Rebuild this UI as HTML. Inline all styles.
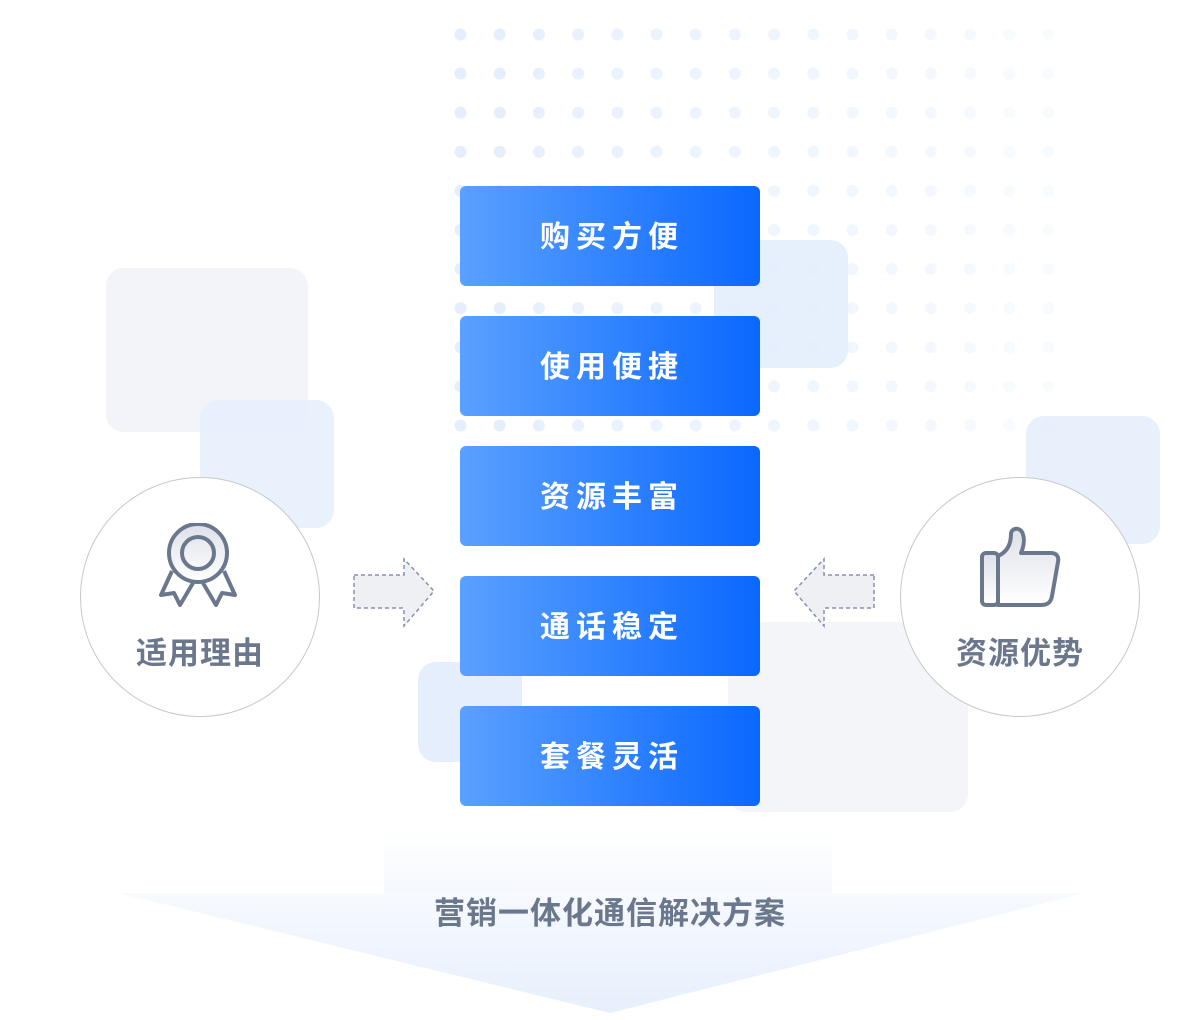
<!DOCTYPE html>
<html><head><meta charset="utf-8"><style>
body{margin:0;width:1196px;height:1020px;background:#fff;position:relative;overflow:hidden;font-family:"Liberation Sans","Noto Sans CJK SC",sans-serif}
.a{position:absolute}
.sq{position:absolute;border-radius:18px}
.btn{position:absolute;left:460px;width:300px;height:100px;border-radius:6px;background:linear-gradient(90deg,#5aa0ff,#0a68ff);color:#fff;font-size:30px;font-weight:bold;letter-spacing:6px;text-align:center;line-height:104px;text-indent:4px}
.circ{position:absolute;width:238px;height:238px;border-radius:50%;border:1px solid #c8c8c8;background:#fff}
.lbl{position:absolute;left:0;width:100%;text-align:center;top:150px;font-size:31px;font-weight:bold;color:#6b778c;letter-spacing:1px}
</style></head><body>
<div class="sq" style="left:106px;top:268px;width:202px;height:164px;background:#f2f4f9"></div>
<div class="sq" style="left:200px;top:400px;width:134px;height:128px;background:#e6effc;opacity:.9"></div>
<div class="sq" style="left:714px;top:240px;width:134px;height:128px;background:#e6effc"></div>
<div class="sq" style="left:1026px;top:416px;width:134px;height:128px;background:#e8f0fc"></div>
<div class="sq" style="left:418px;top:662px;width:104px;height:100px;background:#e4eefc"></div>
<div class="sq" style="left:728px;top:622px;width:240px;height:190px;background:#f3f5f9"></div>
<svg class="a" style="left:0;top:0" width="1196" height="1020">
<defs>
<linearGradient id="fx" x1="0" x2="1" y1="0" y2="0"><stop offset="0" stop-color="#fff" stop-opacity="1"/><stop offset="1" stop-color="#fff" stop-opacity=".2"/></linearGradient>
<mask id="m"><rect x="440" y="0" width="640" height="450" fill="url(#fx)"/></mask>
<pattern id="dots" x="441" y="15" width="39.2" height="39.1" patternUnits="userSpaceOnUse"><circle cx="19.5" cy="19.5" r="6" fill="#e3eefc"/></pattern>
<linearGradient id="ar" x1="0" x2="0" y1="0" y2="1"><stop offset="0" stop-color="#f7faff"/><stop offset="1" stop-color="#e6effc"/></linearGradient>
<linearGradient id="rc" x1="0" x2="0" y1="0" y2="1"><stop offset="0" stop-color="#fff"/><stop offset="1" stop-color="#f5f8fd"/></linearGradient>
<linearGradient id="ic" x1="0" x2="0" y1="0" y2="1"><stop offset="0" stop-color="#dde1e8"/><stop offset="1" stop-color="#fff"/></linearGradient>
</defs>
<rect x="441" y="15" width="626" height="430" fill="url(#dots)" mask="url(#m)"/>
<rect x="384" y="830" width="448" height="64" fill="url(#rc)"/>
<polygon points="118,893 1085,893 610,1013" fill="url(#ar)"/>
<polygon points="354,575 404,575 404,559 434,591 404,626 404,608 354,608" fill="#eef0f4" stroke="#8890b0" stroke-width="1.5" stroke-dasharray="4,3"/>
<polygon points="874,575 824,575 824,559 794,591 824,626 824,608 874,608" fill="#eef0f4" stroke="#8890b0" stroke-width="1.5" stroke-dasharray="4,3"/>
</svg>
<div class="btn" style="top:186px">购买方便</div>
<div class="btn" style="top:316px">使用便捷</div>
<div class="btn" style="top:446px">资源丰富</div>
<div class="btn" style="top:576px">通话稳定</div>
<div class="btn" style="top:706px">套餐灵活</div>
<div class="circ" style="left:80px;top:477px">
<svg class="a" style="left:77px;top:45px" width="90" height="90">
<polyline points="14,48 3,72 16,70 22,82 35,60" fill="none" stroke="#6b778c" stroke-width="4" stroke-linejoin="round"/>
<polyline points="66,48 77,72 64,70 58,82 45,60" fill="none" stroke="#6b778c" stroke-width="4" stroke-linejoin="round"/>
<circle cx="40" cy="30" r="29" fill="url(#ic)" stroke="#6b778c" stroke-width="4"/>
<circle cx="40" cy="30" r="16" fill="none" stroke="#6b778c" stroke-width="4"/>
</svg>
<div class="lbl" style="top:150px">适用理由</div></div>
<div class="circ" style="left:900px;top:477px">
<svg class="a" style="left:78px;top:48px" width="90" height="90">
<rect x="3" y="27" width="16" height="52" rx="4" fill="url(#ic)" stroke="#6b778c" stroke-width="4"/>
<path d="M19,30 C28,26 32,18 32,8 C32,2 40,1 43,6 C46,12 45,20 42,27 L72,27 C78,27 80,31 79,36 L73,70 C72,76 69,79 62,79 L19,79 Z" fill="url(#ic)" stroke="#6b778c" stroke-width="4" stroke-linejoin="round"/>
</svg>
<div class="lbl" style="top:150px">资源优势</div></div>
<div class="a" style="left:0;width:1220px;top:888px;text-align:center;font-size:31px;font-weight:bold;color:#6b778c;letter-spacing:1px">营销一体化通信解决方案</div>
</body></html>
